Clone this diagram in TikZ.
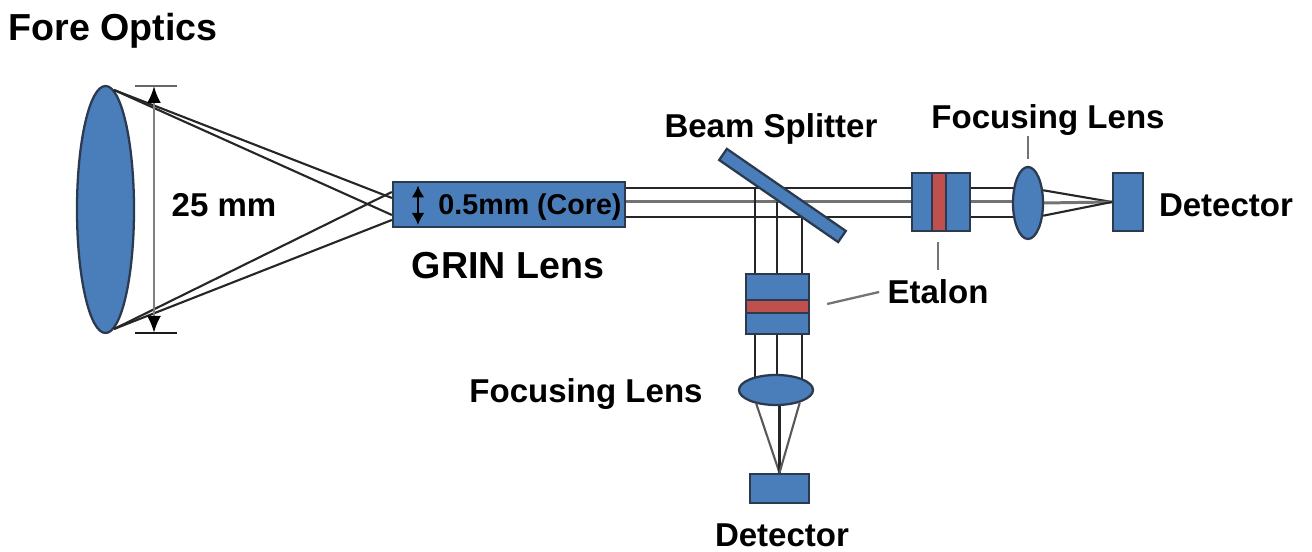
\documentclass[tikz,border=0pt]{standalone}
\usepackage{fontspec}
\setmainfont{Liberation Sans}
\usetikzlibrary{arrows.meta,calc,shapes.geometric}
\definecolor{partblue}{HTML}{4A7EBB}
\definecolor{partred}{HTML}{C0504D}
\definecolor{partedge}{HTML}{2B3A4E}
\begin{document}
\begin{tikzpicture}[
  lab/.style={font=\bfseries\fontsize{18.8}{20}\selectfont,inner sep=0},
  labbig/.style={font=\bfseries\fontsize{21.4}{23}\selectfont,inner sep=0},
  part/.style={draw=partedge,line width=1.3pt,fill=partblue,inner sep=0},
  band/.style={part,fill=partred},
  glass/.style={part,ellipse},
  ray/.style={line width=1.2pt,black!85},
  midray/.style={line width=1.7pt,black!55},
  leader/.style={line width=1.3pt,black!55}]
\useasboundingbox (0,0) rectangle (26.24,11.04);
% fore optics
\node[glass,minimum width=1.14cm,minimum height=4.94cm] (lens) at (2.11,6.85) {};
\node[part,minimum width=4.64cm,minimum height=0.90cm] (grin) at (10.18,6.95) {};
\draw[ray] (lens.86) -- ($(grin.west)+(0,0.13)$);
\draw[ray] (lens.86) -- ($(grin.west)+(0,-0.21)$);
\draw[ray] (lens.-86) -- ($(grin.west)+(0,0.25)$);
\draw[ray] (lens.-86) -- ($(grin.west)+(0,-0.31)$);
\coordinate (dimT) at (3.08,9.32); \coordinate (dimB) at (3.08,4.38);
\draw[line width=1.3pt,black!60] ($(dimT)+(-0.38,0)$) -- ($(dimT)+(0.46,0)$);
\draw[line width=1.3pt,black!90] ($(dimB)+(-0.38,0)$) -- ($(dimB)+(0.46,0)$);
\draw[line width=1.5pt,black!50,{Latex[black,length=0.34cm,width=0.28cm]}-{Latex[black,length=0.34cm,width=0.28cm]}] (dimT) -- (dimB);
\node[lab] (dia) at (4.48,6.94) {25 mm};
\node[labbig] (grinlab) at (10.16,5.72) {GRIN Lens};
\coordinate (coreT) at (8.36,7.33); \coordinate (coreB) at (8.36,6.54);
\draw[line width=1.5pt,{Latex[length=0.24cm,width=0.26cm]}-{Latex[length=0.24cm,width=0.26cm]}] (coreT) -- (coreB);
\node[lab,font=\bfseries\fontsize{16.3}{18}\selectfont] (core) at (10.6,6.89) {0.5mm (Core)};
\node[labbig] (fore) at (2.26,10.42) {Fore Optics};
% beams, etalons and detectors
\node[part,minimum width=1.16cm,minimum height=1.16cm] (etaR) at (18.82,7.00) {};
\node[band,minimum width=0.28cm,minimum height=1.16cm] (bandR) at (18.78,7.00) {};
\node[part,minimum width=1.26cm,minimum height=1.20cm] (etaB) at (15.55,4.96) {};
\node[band,minimum width=1.26cm,minimum height=0.26cm] (bandB) at (15.55,4.91) {};
\node[part,minimum width=0.60cm,minimum height=1.16cm] (detR) at (22.56,7.00) {};
\node[part,minimum width=1.18cm,minimum height=0.58cm] (detB) at (15.59,1.27) {};
\coordinate (hi) at (12.50,7.28); \coordinate (mid) at (12.50,7.00); \coordinate (lo) at (12.50,6.70);
\coordinate (fcR) at (20.56,6.98); \coordinate (fcB) at (15.52,3.24);
\draw[ray] (hi -| grin.east) -- (hi -| etaR.west); \draw[midray] (mid -| grin.east) -- (mid -| etaR.west); \draw[ray] (lo -| grin.east) -- (lo -| etaR.west);
\draw[ray] (hi -| etaR.east) -- (hi -| fcR); \draw[midray] (mid -| etaR.east) -- (mid -| fcR); \draw[ray] (lo -| etaR.east) -- (lo -| fcR);
\coordinate (colA) at (15.10,7.28); \coordinate (colB) at (15.54,7.00); \coordinate (colC) at (16.04,6.70);
\draw[ray] (colA) -- (colA |- etaB.north); \draw[ray] (colB) -- (colB |- etaB.north); \draw[ray] (colC) -- (colC |- etaB.north);
\draw[ray] (colA |- etaB.south) -- (colA |- fcB); \draw[ray] (colB |- etaB.south) -- (colB |- fcB); \draw[ray] (colC |- etaB.south) -- (colC |- fcB);
\node[part,rotate=-34.6,minimum width=2.89cm,minimum height=0.27cm] (split) at (15.65,7.13) {};
\node[glass,minimum width=0.60cm,minimum height=1.44cm] (lensR) at (fcR) {};
\node[glass,minimum width=1.48cm,minimum height=0.60cm] (lensB) at (fcB) {};
\draw[ray] (lensR.40) -- (detR.west); \draw[midray] (lensR.east) -- (detR.west); \draw[ray] (lensR.-40) -- (detR.west);
\draw[ray,black!65] (lensB.-145) -- (detB.north); \draw[ray] (detB.north |- lensB.south) -- (detB.north); \draw[ray,black!65] (lensB.-28) -- (detB.north);
% labels
\node[lab] (splitlab) at (15.42,8.46) {Beam Splitter};
\node[lab] (focR) at (20.96,8.64) {Focusing Lens};
\node[lab] (focB) at (11.72,3.16) {Focusing Lens};
\node[lab] (etalab) at (18.76,5.20) {Etalon};
\node[lab] (detRlab) at (24.52,6.94) {Detector};
\node[lab] (detBlab) at (15.64,0.34) {Detector};
\draw[leader] (lensR.north |- focR.south) -- ($(lensR.north)+(0,0.14)$);
\draw[leader] ($(etalab.north)+(0,0.20)$) -- ($(etalab.north |- etaR.south)+(0,-0.20)$);
\draw[leader] ($(etalab.west)+(-0.16,0)$) -- ($(etaB.east)+(0.34,0)$);
\end{tikzpicture}
\end{document}
